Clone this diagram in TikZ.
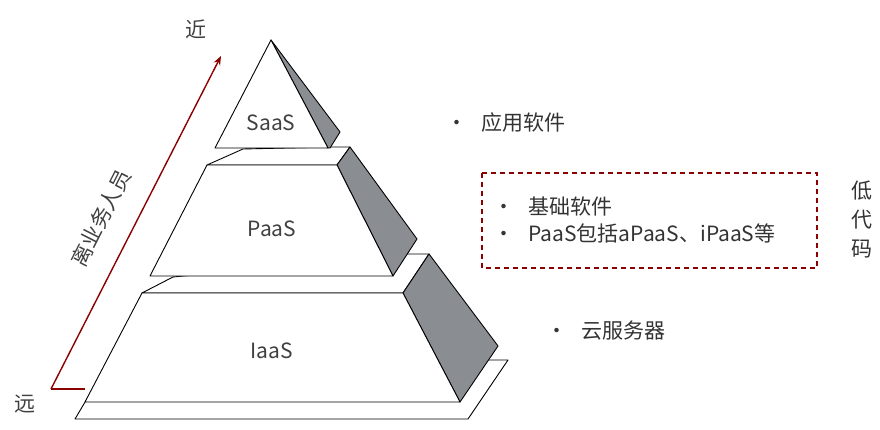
\documentclass[tikz,border=0pt]{standalone}
\usepackage{fontspec}
\setmainfont{Noto Sans CJK SC}
\usetikzlibrary{arrows.meta}
\definecolor{sidegray}{RGB}{138,142,146}
\begin{document}
\begin{tikzpicture}[x=1pt,y=-1pt,
    face/.style={draw=black,fill=white,line width=0.9pt,line join=round},
    shade/.style={draw=black,fill=sidegray,line width=0.9pt,line join=round},
    layer/.style={text=black!75,font=\fontsize{21}{24}\selectfont},
    item/.style={text=black!80,font=\fontsize{21}{27}\selectfont,anchor=west,align=left},
    redline/.style={draw=red!55!black,line width=1.4pt}]
    \useasboundingbox (0,0) rectangle (880,430);
    % base slab
    \coordinate (b1) at (75,419);
    \coordinate (b2) at (468,419);
    \coordinate (b3) at (508,360);
    \coordinate (b4) at (110,360);
    \draw[face] (b1) -- (b2) -- (b3) -- (b4) -- cycle;
    % IaaS
    \coordinate (i1) at (85,402);
    \coordinate (i2) at (460,402);
    \coordinate (i3) at (403,293);
    \coordinate (i4) at (142,293);
    \draw[face] (173,277) -- (142,293) -- (403,293) -- (429,254) -- (407,254) -- cycle;
    \draw[shade] (i3) -- (429,254) -- (498,346) -- (i2) -- cycle;
    \draw[face] (i1) -- (i2) -- (i3) -- (i4) -- cycle;
    % PaaS
    \coordinate (p1) at (150,276);
    \coordinate (p2) at (393,276);
    \coordinate (p3) at (337,165);
    \coordinate (p4) at (207,165);
    \draw[face] (243,149) -- (207,165) -- (337,165) -- (350,147) -- (330,147) -- cycle;
    \draw[shade] (p3) -- (350,147) -- (417,239) -- (p2) -- cycle;
    \draw[face] (p1) -- (p2) -- (p3) -- (p4) -- cycle;
    % SaaS
    \coordinate (s1) at (215,148);
    \coordinate (s2) at (328,148);
    \coordinate (s3) at (271,40);
    \draw[shade] (s3) -- (340,132) -- (330,148) -- (s2) -- cycle;
    \draw[face] (s1) -- (s2) -- (s3) -- cycle;
    \node[layer] (saas) at (271,123) {SaaS};
    \node[layer] (paas) at (272,229) {PaaS};
    \node[layer] (iaas) at (272,351) {IaaS};
    % arrow
    \coordinate (far) at (51,389);
    \coordinate (farEnd) at (85,389);
    \coordinate (near) at (221,56);
    \draw[redline] (farEnd) -- (far);
    \draw[redline,-{Stealth[length=9pt,width=7pt]}] (far) -- (near);
    \node[layer] (jin) at (196,29) {近};
    \node[layer] (yuan) at (25,404) {远};
    \node[layer,rotate=63,inner sep=0pt] (staff) at (101,218) {离业务人员};
    % descriptions
    \node[item] (app) at (443,123) {•\hspace{14pt}应用软件};
    \node[item] (base) at (490,220) {•\hspace{14pt}基础软件\\•\hspace{14pt}PaaS包括aPaaS、iPaaS等};
    \draw[redline,line width=1.1pt,dash pattern=on 5pt off 4pt] (482,173) rectangle (817,268);
    \node[item,align=center,anchor=center,font=\fontsize{21}{29}\selectfont] (lowcode) at (862,219) {低\\代\\码};
    \node[item] (cloud) at (543,331) {•\hspace{14pt}云服务器};
\end{tikzpicture}
\end{document}
